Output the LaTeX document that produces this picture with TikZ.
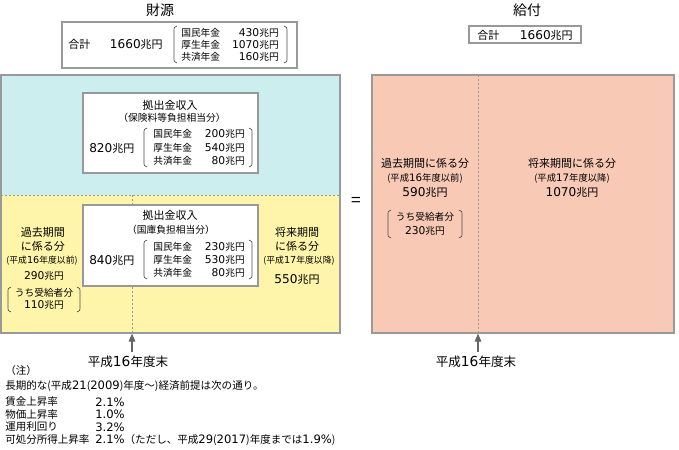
\documentclass[tikz,border=0pt]{standalone}
\usepackage{fontspec}
\setmainfont{Noto Sans CJK JP}
\newfontfamily\dgfont[Scale=1.1]{DejaVu Sans}
\newcommand{\Nm}[1]{{\dgfont #1}}
\usetikzlibrary{fit,arrows.meta}
\definecolor{bd}{HTML}{999999}
\definecolor{cy}{HTML}{CCEEEE}
\definecolor{ye}{HTML}{FFF5AA}
\definecolor{sa}{HTML}{F8CAB6}
\definecolor{ar}{HTML}{666666}
\newcommand{\myLP}[3]{\draw[par] (#1+3,#2) .. controls (#1,#2+1) .. (#1,#2+6) -- (#1,#3-6) .. controls (#1,#3-1) .. (#1+3,#3);}
\newcommand{\myRP}[3]{\draw[par] (#1-3,#2) .. controls (#1,#2+1) .. (#1,#2+6) -- (#1,#3-6) .. controls (#1,#3-1) .. (#1-3,#3);}
\begin{document}
\begin{tikzpicture}[x=0.75pt,y=-0.75pt,
  box/.style={draw=bd,line width=0.9pt,inner sep=0pt},
  t/.style={inner sep=0pt,font=\fontsize{8.25}{10}\selectfont},
  s/.style={inner sep=0pt,font=\fontsize{7.3}{9}\selectfont},
  xs/.style={inner sep=0pt,font=\fontsize{6.6}{8}\selectfont},
  hd/.style={inner sep=0pt,font=\fontsize{10.5}{12}\selectfont},
  lb/.style={inner sep=0pt,font=\fontsize{9.4}{11}\selectfont},
  nt/.style={inner sep=0pt,anchor=west,font=\fontsize{7.9}{9}\selectfont},
  par/.style={draw=black!70,line width=0.5pt},
  dot/.style={draw=bd,line width=0.6pt,dash pattern=on 1.5pt off 1.5pt},
  arr/.style={draw=ar,line width=0.8pt,-{Triangle[width=5pt,length=6pt]}}]
\useasboundingbox (0,0) rectangle (679,450);
% headers
\node[hd] (zaigen) at (160,10) {財源};
\node[hd] (kyufu) at (527,10) {給付};
% top-left total box
\node[box,fit={(62,22)(297,68)}] (sum1) {};
\node[t,anchor=west] (sum1a) at (68,44) {合計};
\node[t,anchor=east] (sum1b) at (163,44) {\Nm{1660}兆円};
\myLP{174}{26}{63}
\myRP{287}{26}{63}
\node[s,anchor=west] (r1a) at (181,32.5) {国民年金};
\node[s,anchor=east] (r1b) at (279,32.5) {\Nm{430}兆円};
\node[s,anchor=west] (r2a) at (181,44.5) {厚生年金};
\node[s,anchor=east] (r2b) at (279,44.5) {\Nm{1070}兆円};
\node[s,anchor=west] (r3a) at (181,56.5) {共済年金};
\node[s,anchor=east] (r3b) at (279,56.5) {\Nm{160}兆円};
% top-right total box
\node[box,fit={(469,26)(581,43)}] (sum2) {};
\node[t,anchor=west] (sum2a) at (477,35) {合計};
\node[t,anchor=east] (sum2b) at (573,35) {\Nm{1660}兆円};
% left big box
\fill[cy] (1,75) rectangle (340,195);
\fill[ye] (1,195) rectangle (340,333);
\node[box,fit={(1,75)(340,333)}] (L) {};
\draw[dot] (1,195) -- (340,195);
\draw[dot] (132,195) -- (132,333);
% inner box 1
\node[box,fill=white,fit={(83,93)(258,173)}] (ib1) {};
\node[t] (ib1a) at (170,105) {拠出金収入};
\node[s] (ib1b) at (172,118) {（保険料等負担相当分）};
\node[t,anchor=west] (ib1c) at (89,148) {\Nm{820}兆円};
\myLP{144}{128}{167}
\myRP{252}{128}{167}
\node[s,anchor=west] (p1a) at (153,134) {国民年金};
\node[s,anchor=east] (p1b) at (245,134) {\Nm{200}兆円};
\node[s,anchor=west] (p2a) at (153,147.5) {厚生年金};
\node[s,anchor=east] (p2b) at (245,147.5) {\Nm{540}兆円};
\node[s,anchor=west] (p3a) at (153,161) {共済年金};
\node[s,anchor=east] (p3b) at (245,161) {\Nm{80}兆円};
% inner box 2
\node[box,fill=white,fit={(83,205)(258,286)}] (ib2) {};
\node[t] (ib2a) at (170,215) {拠出金収入};
\node[s] (ib2b) at (171,230) {（国庫負担相当分）};
\node[t,anchor=west] (ib2c) at (89,260) {\Nm{840}兆円};
\myLP{144}{240}{279}
\myRP{252}{240}{279}
\node[s,anchor=west] (q1a) at (153,247) {国民年金};
\node[s,anchor=east] (q1b) at (245,247) {\Nm{230}兆円};
\node[s,anchor=west] (q2a) at (153,260) {厚生年金};
\node[s,anchor=east] (q2b) at (245,260) {\Nm{530}兆円};
\node[s,anchor=west] (q3a) at (153,273) {共済年金};
\node[s,anchor=east] (q3b) at (245,273) {\Nm{80}兆円};
% left column
\node[t] (la1) at (43,232) {過去期間};
\node[t] (la2) at (43,246) {に係る分};
\node[xs] (la3) at (42,261) {(平成\Nm{16}年度以前)};
\node[s] (la4) at (44,276) {\Nm{290}兆円};
\myLP{8}{287}{312}
\myRP{80}{287}{312}
\node[s] (la5) at (44,293) {うち受給者分};
\node[s] (la6) at (44,305) {\Nm{110}兆円};
% right column
\node[t] (ra1) at (297,232) {将来期間};
\node[t] (ra2) at (297,246) {に係る分};
\node[xs] (ra3) at (299,261) {(平成\Nm{17}年度以降)};
\node[t] (ra4) at (297,279) {\Nm{550}兆円};
% equals
\node[inner sep=0pt,font=\fontsize{13}{13}\selectfont] (eq) at (356,202) {=};
% right big box
\node[box,fill=sa,fit={(372,75)(674,333)}] (R) {};
\draw[dot] (478,75) -- (478,333);
\node[t] (rb1) at (425,163) {過去期間に係る分};
\node[xs,font=\fontsize{7}{8}\selectfont] (rb2) at (425,178) {(平成\Nm{16}年度以前)};
\node[t] (rb3) at (425,192) {\Nm{590}兆円};
\myLP{388}{210}{238}
\myRP{462}{210}{238}
\node[s] (rb4) at (425,217) {うち受給者分};
\node[s] (rb5) at (425,231) {\Nm{230}兆円};
\node[t] (rc1) at (572,163) {将来期間に係る分};
\node[xs,font=\fontsize{7}{8}\selectfont] (rc2) at (572,178) {(平成\Nm{17}年度以降)};
\node[t] (rc3) at (572,192) {\Nm{1070}兆円};
% arrows and labels
\node[lb] (lab1) at (128,362) {平成\Nm{16}年度末};
\node[lb] (lab2) at (476,362) {平成\Nm{16}年度末};
\coordinate (a1) at (132,352);
\coordinate (a2) at (478,352);
\draw[arr] (a1) -- (a1 |- L.south);
\draw[arr] (a2) -- (a2 |- R.south);
% notes
\node[nt] (n0) at (5,370) {（注）};
\node[nt] (n1) at (5,386) {長期的な(平成\Nm{21}(\Nm{2009})年度〜)経済前提は次の通り。};
\node[nt] (n2) at (5,402) {賃金上昇率};
\node[nt] (n2v) at (95,402) {\Nm{2.1\%}};
\node[nt] (n3) at (5,414.5) {物価上昇率};
\node[nt] (n3v) at (95,414.5) {\Nm{1.0\%}};
\node[nt] (n4) at (5,427) {運用利回り};
\node[nt] (n4v) at (95,427) {\Nm{3.2\%}};
\node[nt] (n5) at (5,440) {可処分所得上昇率};
\node[nt] (n5v) at (95,440) {\Nm{2.1\%}（ただし、平成\Nm{29}(\Nm{2017})年度までは\Nm{1.9\%})};
\end{tikzpicture}
\end{document}
